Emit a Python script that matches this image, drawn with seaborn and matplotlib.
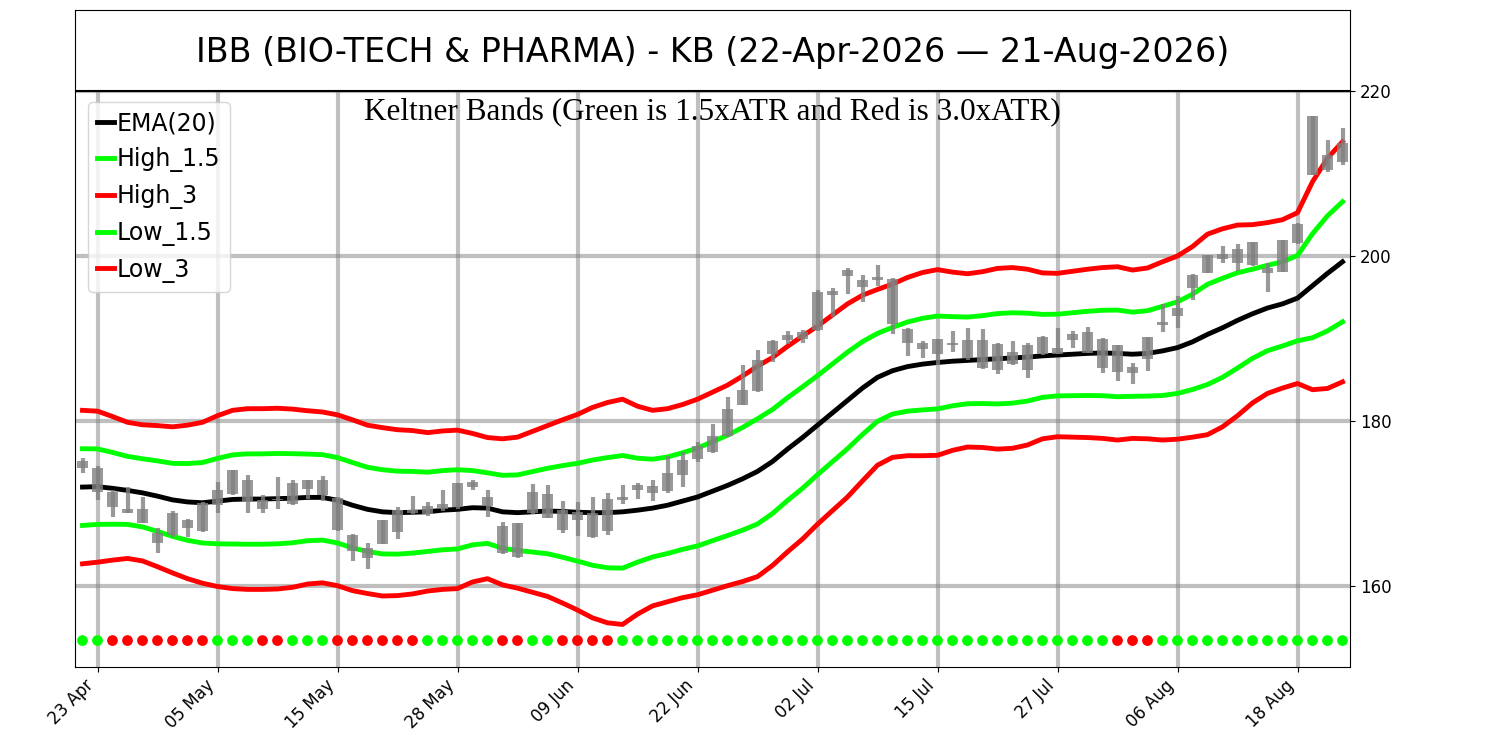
import numpy as np
import pandas as pd
import matplotlib
matplotlib.use("Agg")
import matplotlib.pyplot as plt
import seaborn as sns

# trading days, US market holidays removed
holidays = ["2026-05-25", "2026-06-19", "2026-07-03"]
dates = pd.bdate_range("2026-04-22", "2026-08-21", freq="C", holidays=holidays)

# candles (all drawn grey)
open_ = [174.3, 174.3, 171.4, 168.9, 169.3, 166.4, 166.2, 168.0, 166.7, 169.8,
         171.15, 172.9, 170.4, 170.4, 169.9, 171.8, 171.0, 170.7, 166.2, 164.6,
         165.1, 166.5, 169.2, 168.7, 169.9, 169.6, 172.0, 170.8, 167.3, 163.5,
         168.9, 171.15, 169.2, 169.0, 168.8, 166.7, 170.4, 171.7, 171.3, 171.5,
         173.5, 175.35, 176.3, 178.2, 182.0, 183.6, 188.1, 189.8, 190.0, 191.0,
         195.3, 197.6, 196.3, 197.1, 197.2, 191.2, 189.5, 189.9, 189.5, 189.8,
         189.8, 189.3, 188.4, 189.2, 188.1, 188.1, 189.8, 188.3, 190.0, 189.2,
         186.5, 187.5, 191.65, 192.75, 196.15, 198.0, 199.65, 199.1, 198.9, 197.9,
         198.1, 201.6, 209.8, 212.2, 211.4]
close = [175.1, 171.4, 169.6, 169.4, 167.7, 165.25, 168.8, 167.1, 170.1, 171.6,
         174.05, 170.2, 169.4, 170.6, 172.5, 172.8, 172.9, 166.8, 164.2, 163.4,
         168.0, 169.2, 168.9, 169.7, 169.3, 172.45, 172.6, 169.7, 164.0, 167.6,
         171.4, 168.3, 166.8, 168.0, 165.9, 170.5, 170.8, 172.3, 172.1, 173.65,
         175.3, 176.95, 178.15, 181.5, 183.8, 187.4, 189.7, 190.4, 190.8, 195.7,
         195.8, 198.3, 197.1, 197.5, 191.8, 189.5, 188.7, 188.1, 189.2, 187.7,
         186.4, 186.2, 186.9, 186.2, 190.2, 188.9, 190.5, 190.8, 186.4, 186.0,
         185.8, 190.2, 191.95, 193.65, 197.75, 200.1, 200.2, 200.85, 201.65, 198.5,
         201.9, 203.9, 216.95, 210.4, 213.7]
high = [175.5, 174.5, 171.6, 172.0, 170.8, 167.0, 169.1, 168.1, 170.2, 172.6,
        174.1, 173.45, 171.0, 173.25, 172.8, 172.9, 173.3, 170.8, 166.3, 165.25,
        168.05, 169.6, 170.9, 170.2, 171.6, 172.5, 172.85, 171.6, 167.8, 167.7,
        172.4, 172.2, 170.3, 170.2, 170.75, 171.3, 172.2, 172.5, 172.85, 175.75,
        176.2, 177.45, 179.6, 182.95, 186.8, 188.6, 189.8, 190.95, 191.0, 195.9,
        196.1, 198.6, 197.7, 198.9, 197.3, 191.3, 189.7, 190.0, 190.9, 191.3,
        191.15, 189.4, 189.7, 189.4, 190.3, 191.3, 190.9, 191.4, 190.1, 189.2,
        187.0, 190.2, 194.15, 195.1, 197.8, 200.1, 201.25, 201.4, 201.75, 199.1,
        201.95, 203.95, 217.0, 214.1, 215.5]
low = [173.7, 170.4, 168.4, 168.8, 167.6, 164.0, 166.0, 165.9, 166.6, 168.8,
       171.0, 168.9, 168.8, 169.4, 169.8, 170.6, 170.35, 166.7, 163.1, 162.1,
       165.05, 165.7, 168.7, 168.5, 169.1, 169.4, 171.6, 168.4, 163.9, 163.4,
       168.7, 168.2, 166.4, 166.1, 165.8, 166.2, 170.0, 170.6, 170.3, 171.3,
       172.0, 175.0, 176.1, 178.1, 181.9, 183.5, 187.1, 189.3, 189.5, 190.95,
       192.6, 195.4, 194.4, 196.4, 190.6, 187.9, 187.7, 186.8, 188.4, 187.4,
       186.3, 185.7, 186.8, 185.2, 188.0, 188.1, 188.8, 188.2, 185.8, 184.8,
       184.45, 186.1, 190.8, 191.3, 194.7, 197.9, 199.1, 198.2, 198.8, 195.7,
       198.05, 201.45, 209.8, 210.2, 211.0]

# EMA(20) and ATR
ema20 = [172.0, 172.05, 171.85, 171.6, 171.3, 170.9, 170.45, 170.2, 170.1, 170.3,
         170.5, 170.55, 170.55, 170.6, 170.65, 170.75, 170.75, 170.4, 169.8, 169.3,
         169.0, 168.9, 168.95, 169.0, 169.2, 169.3, 169.5, 169.45, 169.0, 168.9,
         169.0, 169.1, 169.05, 168.95, 168.9, 168.9, 169.0, 169.2, 169.45, 169.8,
         170.3, 170.8, 171.5, 172.2, 173.0, 173.9, 175.1, 176.6, 178.0, 179.5,
         181.0, 182.5, 184.0, 185.3, 186.1, 186.6, 186.9, 187.1, 187.25, 187.35,
         187.45, 187.55, 187.65, 187.75, 187.9, 188.0, 188.1, 188.2, 188.25, 188.2,
         188.1, 188.2, 188.5, 188.9, 189.6, 190.5, 191.3, 192.2, 193.0, 193.7,
         194.2, 194.9, 196.4, 197.9, 199.3]
atr = [3.1, 3.05, 2.9, 2.75, 2.75, 2.85, 2.95, 3.1, 3.25, 3.45,
       3.6, 3.65, 3.65, 3.65, 3.6, 3.5, 3.45, 3.45, 3.45, 3.4,
       3.4, 3.35, 3.3, 3.2, 3.2, 3.2, 3.0, 2.85, 2.95, 3.05,
       3.25, 3.45, 3.7, 3.95, 4.25, 4.45, 4.55, 4.2, 3.95, 3.9,
       3.9, 3.95, 4.0, 4.05, 4.15, 4.25, 4.2, 4.15, 4.1, 4.0,
       3.95, 3.9, 3.75, 3.55, 3.5, 3.6, 3.7, 3.75, 3.6, 3.5,
       3.55, 3.65, 3.65, 3.55, 3.35, 3.3, 3.35, 3.4, 3.45, 3.5,
       3.4, 3.45, 3.6, 3.7, 3.85, 4.05, 4.0, 3.85, 3.6, 3.45,
       3.4, 3.45, 4.2, 4.65, 4.85]

# signal dots along the bottom: G = green, R = red
signal = list("GGRRRRRRRGGGRRGGGRRRRRRGGGGGRRGGRRRRGGGGGGGGGGGGGGGGG"
              "GGGGGGGGGGGGGGGGRRRGGGGGGGGGGGGG")

df = pd.DataFrame({"date": dates, "open": open_, "high": high, "low": low,
                   "close": close, "ema": ema20, "atr": atr, "signal": signal})
df["idx"] = np.arange(len(df))
df["High_1.5"] = df["ema"] + 1.5 * df["atr"]
df["High_3"] = df["ema"] + 3.0 * df["atr"]
df["Low_1.5"] = df["ema"] - 1.5 * df["atr"]
df["Low_3"] = df["ema"] - 3.0 * df["atr"]
df["dot_y"] = 153.4

plt.rcParams["font.family"] = ["DejaVu Sans"]

fig = plt.figure(figsize=(15, 7.5), dpi=100)
ax_t = fig.add_axes([0.05, 0.88, 0.85, 0.1067])
ax = fig.add_axes([0.05, 0.1107, 0.85, 0.768])

# title box
ax_t.set_xticks([])
ax_t.set_yticks([])
ax_t.text(0.5, 0.47, "IBB (BIO-TECH & PHARMA) - KB (22-Apr-2026 \u2014 21-Aug-2026)",
          ha="center", va="center", fontsize=24, transform=ax_t.transAxes)

# candles
ax.vlines(df["idx"], df["low"], df["high"], color="gray", alpha=0.8, lw=3, zorder=3)
body_lo = np.minimum(df["open"], df["close"])
body_h = np.abs(df["close"] - df["open"])
ax.bar(df["idx"], body_h, bottom=body_lo, width=0.74, color="gray", alpha=0.8,
       linewidth=0, edgecolor="none", zorder=3)

# keltner lines
lines = [("ema", "EMA(20)", "black"), ("High_1.5", "High_1.5", "#00ff00"),
         ("High_3", "High_3", "red"), ("Low_1.5", "Low_1.5", "#00ff00"),
         ("Low_3", "Low_3", "red")]
for col, lab, c in lines:
    sns.lineplot(data=df, x="idx", y=col, color=c, lw=3.5, label=lab, ax=ax, zorder=2)

sns.scatterplot(data=df, x="idx", y="dot_y", hue="signal",
                palette={"G": "#00ff00", "R": "red"}, s=60, linewidth=0,
                legend=False, ax=ax, zorder=4)

ax.set_xlim(-0.5, 84.5)
ax.set_ylim(150.2, 220)
tick_pos = df["idx"].values[1::8]
ax.set_xticks(tick_pos)
ax.set_xticklabels(df["date"].dt.strftime("%d %b").values[1::8], rotation=45,
                   ha="right", fontsize=12)
ax.yaxis.tick_right()
ax.set_yticks([160, 180, 200, 220])
ax.tick_params(axis="y", labelsize=12)
ax.set_xlabel("")
ax.set_ylabel("")
ax.grid(True, color="gray", alpha=0.5, lw=3)
ax.set_axisbelow(True)

ax.text(0.5, 0.988, "Keltner Bands (Green is 1.5xATR and Red is 3.0xATR)",
        ha="center", va="top", fontsize=22.5, family="Liberation Serif",
        transform=ax.transAxes)

ax.legend(loc="upper left", fontsize=17, handlelength=0.72, handletextpad=0.1,
          labelspacing=0.5, borderpad=0.4, borderaxespad=0,
          bbox_to_anchor=(0.0102, 0.981))

fig.savefig("out.png", dpi=100)
